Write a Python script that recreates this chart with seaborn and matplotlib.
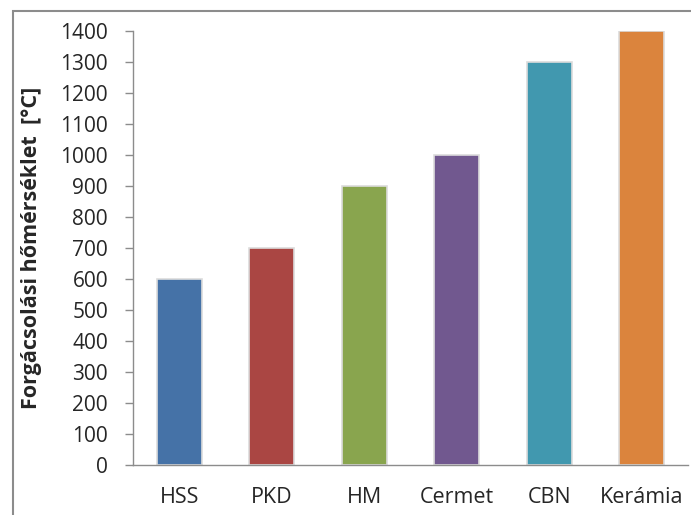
import matplotlib
matplotlib.use("Agg")
import matplotlib.pyplot as plt
import seaborn as sns
import pandas as pd
from matplotlib.patches import Rectangle

# Data
tools = ["HSS", "PKD", "HM", "Cermet", "CBN", "Kerámia"]
temps = [600, 700, 900, 1000, 1300, 1400]
bar_colors = ["#4572A7", "#AA4643", "#89A54E", "#71588F", "#4198AF", "#DB843D"]

sns.set_style("white")
plt.rcParams["font.family"] = ["Open Sans", "DejaVu Sans"]

df = pd.DataFrame({"tool": tools, "temp": temps})

fig = plt.figure(figsize=(6.91, 5.15), dpi=100)
ax = fig.add_axes([0.1925, 0.097, 0.803, 0.843])

sns.barplot(data=df, x="tool", y="temp", hue="tool", palette=bar_colors,
            width=0.49, edgecolor="#dcdcdc", linewidth=1.2, legend=False,
            saturation=1, ax=ax)

ax.set_ylim(0, 1400)
ax.set_xlim(-0.5, 5.5)
ax.set_yticks(range(0, 1401, 100))
ax.set_xlabel("")
ax.set_ylabel("Forgácsolási hőmérséklet  [°C]", fontsize=15.5, fontweight="bold")
ax.yaxis.set_label_coords(-0.164, 0.5)

for side in ["top", "right"]:
    ax.spines[side].set_visible(False)
for side in ["left", "bottom"]:
    ax.spines[side].set_color("#8c8c8c")
    ax.spines[side].set_linewidth(1.0)

ax.tick_params(axis="y", direction="out", length=6, width=1, color="#8c8c8c",
               pad=12, labelsize=15, left=True)
ax.tick_params(axis="x", length=0, pad=16, labelsize=15.5)

# outer chart frame (cropped at right and bottom like the reference)
fig.patches.append(Rectangle((13 / 691, -0.1), 1.1, 1.1 - 11 / 515,
                             transform=fig.transFigure, fill=False,
                             edgecolor="#8c8c8c", linewidth=1.5))

fig.savefig("out.png", dpi=100)
